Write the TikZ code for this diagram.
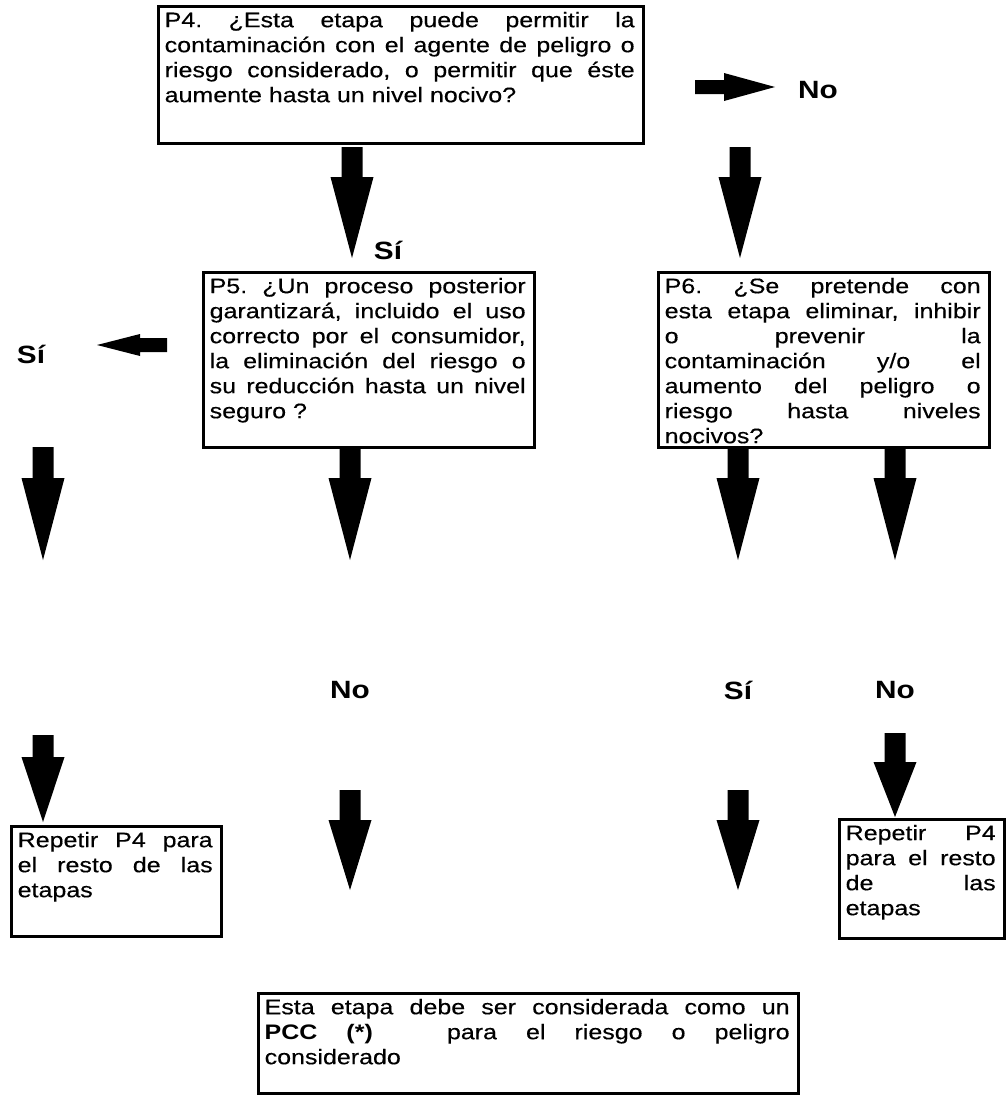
\documentclass[tikz,border=0pt]{standalone}
\usepackage{fontspec}
\setmainfont{Liberation Sans}[FakeStretch=1.19, UprightFeatures={FakeBold=0.35}]
\newcommand\blkdn[4]{%
  \fill[black] (#1-10.5,#2) -- (#1+10.5,#2) -- (#1+10.5,#3) -- (#1+21.5,#3) -- (#1,#4) -- (#1-21.5,#3) -- (#1-10.5,#3) -- cycle;}
\newcommand\jst{\frenchspacing\tolerance=10000\relax\hbadness=10000\relax\hyphenpenalty=10000\relax\strut}
\begin{document}
\begin{tikzpicture}[x=1pt,y=-1pt]
\tikzset{
  qbox/.style={draw, line width=2.6pt, inner sep=0pt, anchor=north west},
  qtxt/.style={inner sep=0pt, anchor=north west, align=justify,
    font=\fontsize{21}{25}\selectfont},
  lbl/.style={inner sep=0pt, font=\fontsize{25}{28}\selectfont\bfseries}
}
\fill[white] (0,0) rectangle (1006,1095);
\useasboundingbox (0,0) rectangle (1006,1095);

% boxes
\node[qbox, minimum width=485pt, minimum height=137pt] (p4) at (157,5) {};
\node[qtxt, text width=470pt] (p4t) at ([xshift=7.5pt,yshift=-4.5pt]p4.north west)
 {\jst P4. ¿Esta etapa puede permitir la\linebreak contaminación con el agente de peligro o\linebreak riesgo considerado, o permitir que éste\linebreak aumente hasta un nivel nocivo?};

\node[qbox, minimum width=331pt, minimum height=175pt] (p5) at (202,271) {};
\node[qtxt, text width=316pt] (p5t) at ([xshift=7.5pt,yshift=-4.5pt]p5.north west)
 {\jst P5. ¿Un proceso posterior\linebreak garantizará, incluido el uso\linebreak correcto por el consumidor,\linebreak la eliminación del riesgo o\linebreak su reducción hasta un nivel\linebreak seguro ?};

\node[qbox, minimum width=331pt, minimum height=175pt] (p6) at (657,271) {};
\node[qtxt, text width=316pt] (p6t) at ([xshift=7.5pt,yshift=-4.5pt]p6.north west)
 {\jst P6. ¿Se pretende con\linebreak esta etapa eliminar, inhibir\linebreak o prevenir la\linebreak contaminación y/o el\linebreak aumento del peligro o\linebreak riesgo hasta niveles\linebreak nocivos?};

\node[qbox, minimum width=210pt, minimum height=110pt] (rl) at (10,825) {};
\node[qtxt, text width=195pt] (rlt) at ([xshift=7.5pt,yshift=-4.5pt]rl.north west)
 {\jst Repetir P4 para\linebreak el resto de las\linebreak etapas};

\node[qbox, minimum width=165pt, minimum height=119pt] (rr) at (838,818) {};
\node[qtxt, text width=150pt] (rrt) at ([xshift=7.5pt,yshift=-4.5pt]rr.north west)
 {\jst Repetir P4\linebreak para el resto\linebreak de las\linebreak etapas};

\node[qbox, minimum width=540pt, minimum height=100pt] (pcc) at (257,992) {};
\node[qtxt, text width=525pt] (pcct) at ([xshift=7.5pt,yshift=-4.5pt]pcc.north west)
 {\jst Esta etapa debe ser considerada como un\linebreak \textbf{PCC (*)}\hspace{45pt} para el riesgo o peligro\linebreak considerado};

% arrows
\fill[black] (695,80) -- (724,80) -- (724,73) -- (775,87) -- (724,101) -- (724,94) -- (695,94) -- cycle;
\fill[black] (167,338) -- (140,338) -- (140,334) -- (97,345) -- (140,356) -- (140,352) -- (167,352) -- cycle;
\blkdn{352}{147}{177}{258}
\blkdn{740}{147}{177}{258}
\blkdn{43}{447}{478}{560}
\blkdn{350}{447}{478}{560}
\blkdn{738}{447}{478}{560}
\blkdn{895}{447}{478}{560}
\blkdn{43}{735}{757}{822}
\blkdn{895}{733}{762}{817}
\blkdn{350}{790}{820}{890}
\blkdn{738}{790}{820}{890}

% labels
\node[lbl] (no1) at (818,90) {No};
\node[lbl] (si1) at (388,250) {Sí};
\node[lbl] (si2) at (31,354) {Sí};
\node[lbl] (no2) at (350,690) {No};
\node[lbl] (si3) at (738,690) {Sí};
\node[lbl] (no3) at (895,690) {No};
\end{tikzpicture}
\end{document}
